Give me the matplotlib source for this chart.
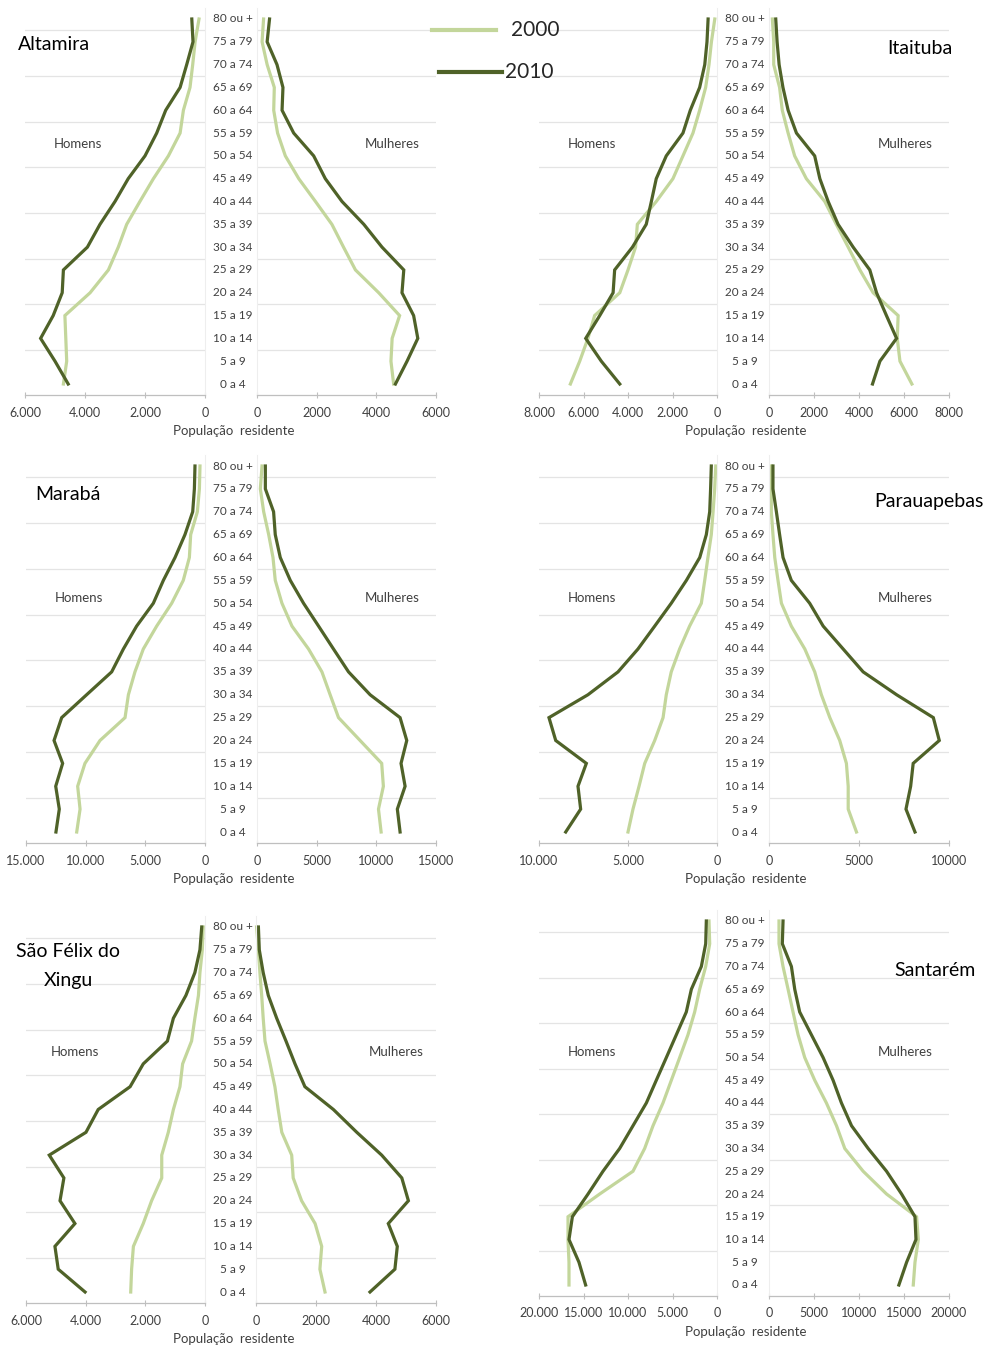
import matplotlib
matplotlib.use("Agg")
import matplotlib.pyplot as plt
from matplotlib.lines import Line2D
import numpy as np

plt.rcParams['font.family'] = ['Lato', 'DejaVu Sans']

# Age groups (bottom to top)
age_labels = ["0 a 4", "5 a 9", "10 a 14", "15 a 19", "20 a 24", "25 a 29", "30 a 34",
              "35 a 39", "40 a 44", "45 a 49", "50 a 54", "55 a 59", "60 a 64",
              "65 a 69", "70 a 74", "75 a 79", "80 ou +"]

# ---- Data (population, from 0 a 4 up to 80 ou +) ----
altamira_h_2000 = [4720, 4610, 4640, 4670, 3830, 3220, 2890, 2610, 2170, 1720, 1220, 830, 720, 500, 410, 330, 200]
altamira_h_2010 = [4560, 5000, 5480, 5060, 4760, 4720, 3920, 3500, 3000, 2560, 2000, 1610, 1310, 830, 610, 400, 440]
altamira_m_2000 = [4580, 4490, 4530, 4780, 4080, 3300, 2900, 2510, 1960, 1400, 950, 690, 560, 580, 340, 170, 220]
altamira_m_2010 = [4640, 5030, 5390, 5250, 4860, 4920, 4190, 3580, 2850, 2290, 1900, 1230, 840, 870, 670, 340, 420]

itaituba_h_2000 = [6590, 6170, 5800, 5500, 4370, 4000, 3660, 3580, 2730, 1980, 1530, 1080, 780, 510, 360, 250, 100]
itaituba_h_2010 = [4370, 5200, 5900, 5270, 4670, 4600, 3800, 3180, 2950, 2730, 2280, 1530, 1200, 780, 550, 450, 400]
itaituba_m_2000 = [6350, 5820, 5700, 5740, 4630, 4040, 3520, 2990, 2480, 1660, 1140, 850, 590, 470, 210, 210, 150]
itaituba_m_2010 = [4600, 4930, 5670, 5220, 4780, 4480, 3740, 3070, 2630, 2260, 2030, 1220, 850, 620, 450, 360, 300]

maraba_h_2000 = [10750, 10470, 10670, 10060, 8800, 6700, 6420, 5870, 5170, 4050, 2790, 1820, 1310, 1200, 640, 470, 420]
maraba_h_2010 = [12490, 12210, 12510, 11930, 12650, 12010, 9920, 7820, 6840, 5730, 4330, 3490, 2510, 1680, 1030, 890, 840]
maraba_m_2000 = [10400, 10180, 10590, 10450, 8640, 6830, 6130, 5440, 4320, 2930, 2090, 1530, 1340, 980, 560, 280, 420]
maraba_m_2010 = [11990, 11760, 12410, 12070, 12550, 11990, 9480, 7670, 6410, 5160, 3900, 2790, 1950, 1530, 1390, 700, 700]

parauapebas_h_2000 = [5000, 4720, 4380, 4060, 3500, 3030, 2850, 2570, 2100, 1540, 880, 690, 510, 320, 220, 130, 70]
parauapebas_h_2010 = [8500, 7660, 7810, 7340, 9060, 9440, 7250, 5560, 4440, 3500, 2570, 1720, 970, 600, 410, 360, 320]
parauapebas_m_2000 = [4860, 4400, 4400, 4300, 3930, 3380, 2910, 2540, 1990, 1240, 690, 500, 320, 220, 130, 130, 130]
parauapebas_m_2010 = [8110, 7610, 7870, 8010, 9460, 9130, 7090, 5230, 4120, 3010, 2260, 1240, 780, 590, 410, 220, 220]

saofelix_h_2000 = [2490, 2460, 2400, 2070, 1790, 1450, 1450, 1230, 1060, 840, 750, 450, 340, 220, 170, 90, 60]
saofelix_h_2010 = [4020, 4920, 5030, 4360, 4860, 4730, 5220, 3990, 3580, 2510, 2070, 1260, 1060, 640, 340, 170, 110]
saofelix_m_2000 = [2300, 2130, 2190, 1970, 1520, 1240, 1190, 860, 740, 630, 470, 300, 240, 190, 130, 80, 20]
saofelix_m_2010 = [3800, 4630, 4710, 4410, 5080, 4860, 4190, 3360, 2580, 1630, 1300, 1000, 690, 410, 240, 110, 80]

santarem_h_2000 = [16630, 16630, 16740, 16740, 13180, 9440, 8130, 7190, 6070, 5130, 4190, 3260, 2510, 1950, 1270, 820, 900]
santarem_h_2010 = [14760, 15510, 16630, 16250, 14490, 12810, 10940, 9440, 7940, 6820, 5690, 4570, 3450, 2880, 1760, 1270, 1200]
santarem_m_2000 = [16030, 16220, 16590, 16400, 13060, 10460, 8420, 7500, 6380, 5080, 3970, 3230, 2670, 2120, 1560, 1110, 1110]
santarem_m_2010 = [14430, 15290, 16330, 16220, 14730, 13060, 11020, 9170, 8050, 7120, 6010, 4710, 3410, 2860, 2490, 1480, 1560]

municipios = ["Altamira", "Itaituba", "Marabá", "Parauapebas", "São Félix do\nXingu", "Santarém"]
axis_max = [6000, 8000, 15000, 10000, 6000, 20000]
tick_step = [2000, 2000, 5000, 5000, 2000, 5000]

series = [
    (altamira_h_2000, altamira_h_2010, altamira_m_2000, altamira_m_2010),
    (itaituba_h_2000, itaituba_h_2010, itaituba_m_2000, itaituba_m_2010),
    (maraba_h_2000, maraba_h_2010, maraba_m_2000, maraba_m_2010),
    (parauapebas_h_2000, parauapebas_h_2010, parauapebas_m_2000, parauapebas_m_2010),
    (saofelix_h_2000, saofelix_h_2010, saofelix_m_2000, saofelix_m_2010),
    (santarem_h_2000, santarem_h_2010, santarem_m_2000, santarem_m_2010),
]

# ---- Layout (pixels) ----
W, H = 989, 1350
# (left ax x0, x1, right ax x0, x1, y of top label, y of bottom label)
geom = [
    (25, 205, 257, 436, 19, 384),
    (539, 717, 769, 949, 19, 384),
    (26, 205, 257, 436, 466, 832),
    (539, 717, 769, 949, 466, 832),
    (26, 205, 256, 436, 927, 1292),
    (539, 717, 769, 949, 921, 1285),
]
title_pos = [(18, 45, 'left'), (920, 48, 'center'), (68, 495, 'center'),
             (929, 501, 'center'), (68, 966, 'center'), (935, 971, 'center')]
sex_label_y = [10.5, 10.5, 10.25, 10.25, 10.5, 10.25]
sex_label_x = [(0.295, 0.755), (0.297, 0.756), (0.295, 0.755), (0.297, 0.756),
               (0.274, 0.78), (0.297, 0.756)]

C2000 = '#c3d69b'
C2010 = '#4f6228'
GRID = '#e4e4e4'
AXC = '#bfbfbf'
TXT = '#404040'

fig = plt.figure(figsize=(W / 100, H / 100), dpi=100)

y = np.arange(len(age_labels))


def make_ax(x0, x1, ytop, ybot):
    sp = (ybot - ytop) / 16
    top = ytop - 0.5 * sp
    bot = ybot + 0.5 * sp
    return fig.add_axes([x0 / W, 1 - bot / H, (x1 - x0) / W, (bot - top) / H])


def style(ax, xmax, step, left):
    ax.set_ylim(-0.5, 16.5)
    if left:
        ax.set_xlim(xmax, 0)
    else:
        ax.set_xlim(0, xmax)
    ticks = list(range(0, xmax + 1, step))
    ax.set_xticks(ticks)
    if left:
        ax.set_xticklabels([f"{t:,}".replace(",", ".") for t in ticks])
    else:
        ax.set_xticklabels([str(t) for t in ticks])
    ax.set_yticks([1.5, 3.5, 5.5, 7.5, 9.5, 11.5, 13.5, 15.5])
    ax.tick_params(axis='y', length=0, labelleft=False)
    ax.grid(axis='y', color=GRID, linewidth=0.9)
    ax.set_axisbelow(True)
    ax.tick_params(axis='x', direction='inout', length=4, width=0.8, color=AXC,
                   labelsize=9, labelcolor='#404040', pad=6)
    for s in ['top', 'left', 'right']:
        ax.spines[s].set_visible(False)
    ax.spines['bottom'].set_color(AXC)
    ax.spines['bottom'].set_linewidth(0.9)
    inner = 'right' if left else 'left'
    ax.spines[inner].set_visible(True)
    ax.spines[inner].set_color('#eeeeee')
    ax.spines[inner].set_linewidth(0.8)
    ax.patch.set_alpha(0)


for i, (name, xmax, step, g, data) in enumerate(zip(municipios, axis_max, tick_step, geom, series)):
    lx0, lx1, rx0, rx1, ytop, ybot = g
    h2000, h2010, m2000, m2010 = data
    axL = make_ax(lx0, lx1, ytop, ybot)
    axR = make_ax(rx0, rx1, ytop, ybot)
    style(axL, xmax, step, True)
    style(axR, xmax, step, False)
    axL.plot(h2000, y, color=C2000, lw=2.3, clip_on=False, solid_joinstyle='miter')
    axL.plot(h2010, y, color=C2010, lw=2.3, clip_on=False, solid_joinstyle='miter')
    axR.plot(m2000, y, color=C2000, lw=2.3, clip_on=False, solid_joinstyle='miter')
    axR.plot(m2010, y, color=C2010, lw=2.3, clip_on=False, solid_joinstyle='miter')

    hx, mx = sex_label_x[i]
    axL.text(hx, sex_label_y[i], "Homens", transform=axL.get_yaxis_transform(),
             ha='center', va='center', fontsize=9.5, color=TXT)
    axR.text(mx, sex_label_y[i], "Mulheres", transform=axR.get_yaxis_transform(),
             ha='center', va='center', fontsize=9.5, color=TXT)

    # age labels between the two halves
    sp = (ybot - ytop) / 16
    cx = (lx1 + rx0) / 2 + 2
    for k, lab in enumerate(age_labels):
        yy = ybot - k * sp
        fig.text(cx / W, 1 - yy / H, lab, ha='center', va='center',
                 fontsize=8.5, color=TXT)

    # x axis label
    fig.text(((lx1 + rx0) / 2 + 3) / W, 1 - (ybot + 47) / H, "População  residente",
             ha='center', va='center', fontsize=9.5, color=TXT)

    tx, ty, ha = title_pos[i]
    fig.text(tx / W, 1 - ty / H, name, ha=ha, va='center', fontsize=14,
             color='black', linespacing=1.85)

# Legend
fig.add_artist(Line2D([432 / W, 496 / W], [1 - 30 / H, 1 - 30 / H], color=C2000, lw=3,
                      transform=fig.transFigure))
fig.add_artist(Line2D([439 / W, 502 / W], [1 - 72 / H, 1 - 72 / H], color=C2010, lw=3,
                      transform=fig.transFigure))
fig.text(511 / W, 1 - 30 / H, "2000", ha='left', va='center', fontsize=15, color='#262626')
fig.text(505 / W, 1 - 72 / H, "2010", ha='left', va='center', fontsize=15, color='#262626')

fig.savefig("out.png", dpi=100, facecolor='white')
